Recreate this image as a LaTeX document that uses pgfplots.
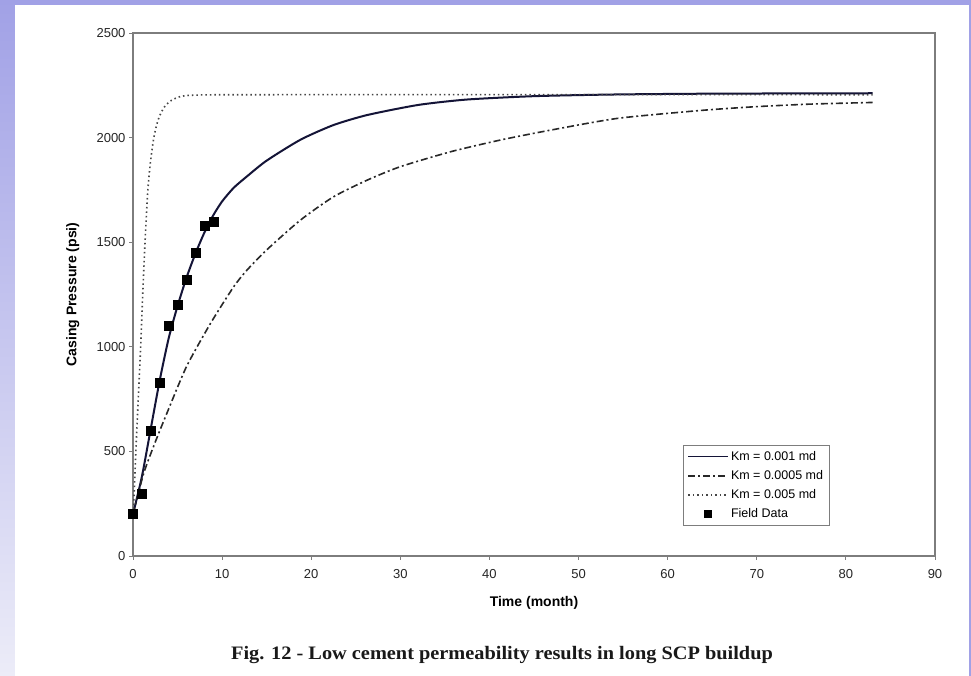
\documentclass[border=0pt]{standalone}
\usepackage{fontspec}
\setmainfont{Liberation Sans}
\newfontfamily\timesfont{Liberation Serif}
\usepackage{pgfplots}
\pgfplotsset{compat=1.18}

\definecolor{bgpurple}{RGB}{161,161,230}
\definecolor{bglight}{RGB}{236,236,248}
\definecolor{framegray}{RGB}{125,125,125}
\definecolor{kmsolid}{RGB}{20,20,55}
\definecolor{kmdash}{RGB}{40,40,40}
\definecolor{kmdot}{RGB}{70,70,70}

\begin{document}
\begin{tikzpicture}[x=1pt,y=1pt]
\useasboundingbox (0,0) rectangle (971,676);
% slide background
\fill[bgpurple] (0,0) rectangle (971,676);
\shade[top color=bgpurple, bottom color=bglight] (0,0) rectangle (15,676);
\fill[white] (15,0) rectangle (969,671);

\begin{axis}[
    at={(133pt,120pt)}, anchor=south west,
    scale only axis,
    width=802pt, height=523pt,
    xmin=0, xmax=90, ymin=0, ymax=2500,
    xtick={0,10,...,90}, ytick={0,500,...,2500},
    axis line style={framegray, line width=1.4pt},
    tick style={framegray, line width=0.9pt},
    tick align=outside, major tick length=4pt,
    xtick pos=bottom, ytick pos=left,
    /pgf/number format/assume math mode=true,
    /pgf/number format/1000 sep={},
    tick label style={font=\fontsize{13}{15}\selectfont, text=black!85},
    xticklabel style={yshift=-6pt},
    xlabel={\textbf{Time (month)}},
    ylabel={\textbf{Casing Pressure (psi)}},
    label style={font=\fontsize{14}{16}\selectfont},
    xlabel style={at={(axis description cs:0.5,-0.09)}, anchor=center},
    ylabel style={at={(axis description cs:-0.075,0.5)}, anchor=center},
    legend style={at={(0.686,0.212)}, anchor=north west, draw=framegray,
        line width=0.7pt, font=\fontsize{12.5}{14}\selectfont,
        row sep=4.5pt, inner sep=4pt},
    legend cell align=left,
]

% Km = 0.001 md
\addplot[kmsolid, line width=2pt, smooth, tension=0.4,
    legend image code/.code={\draw[kmsolid,line width=1.5pt] (0pt,0pt) -- (40pt,0pt);}]
coordinates {
    (0,200) (1,380) (2,610) (3,840) (4,1040) (5,1195) (6,1330) (7,1445)
    (8,1545) (9,1628) (10,1695) (11.3,1760) (12.8,1815) (15,1890)
    (18.8,1990) (22.5,2060) (26.3,2108) (32,2156) (37.5,2182) (45,2198)
    (54,2206) (65,2210) (83,2212)
};
\addlegendentry{Km = 0.001 md}

% Km = 0.0005 md
\addplot[kmdash, line width=1.6pt, dash pattern=on 7pt off 3pt on 2pt off 3pt,
    smooth, tension=0.4,
    legend image code/.code={\draw[kmdash,line width=1.5pt,dash pattern=on 7pt off 3pt on 2pt off 3pt] (0pt,0pt) -- (40pt,0pt);}]
coordinates {
    (0,200) (1.2,395) (2.5,545) (3.8,682) (6,905) (8.7,1112) (11.3,1287)
    (12.8,1367) (15,1463) (18.8,1606) (22.5,1717) (26.3,1797) (30,1861)
    (35.7,1933) (41.3,1989) (46.9,2036) (54.4,2092) (63.8,2130) (70,2148)
    (76,2160) (83,2168)
};
\addlegendentry{Km = 0.0005 md}

% Km = 0.005 md
\addplot[kmdot, line width=1.6pt, dash pattern=on 1.5pt off 3pt,
    smooth, tension=0.4,
    legend image code/.code={\draw[kmdot,line width=1.5pt,dash pattern=on 1.5pt off 3pt] (0pt,0pt) -- (40pt,0pt);}]
coordinates {
    (0,200) (0.17,340) (0.34,520) (0.6,760) (0.86,1000) (1.1,1260)
    (1.35,1500) (1.65,1740) (1.95,1880) (2.3,1990) (2.65,2060) (3,2105)
    (3.5,2145) (4.2,2175) (5.3,2196) (7,2203) (15,2205) (83,2205)
};
\addlegendentry{Km = 0.005 md}

% Field data
\addplot[only marks, mark=square*, mark size=4.5pt, black,
    legend image code/.code={\draw[black,fill=black] (16.5pt,-3.5pt) rectangle (23.5pt,3.5pt);}]
coordinates {
    (0,200) (1,300) (2,600) (3,830) (4,1100) (5,1200) (6,1320) (7,1450)
    (8,1580) (9,1600)
};
\addlegendentry{Field Data}

\end{axis}

\node[font=\timesfont\bfseries\fontsize{19}{22}\selectfont, text=black!90, xscale=1.07]
    at (502,21) {Fig. 12 - Low cement permeability results in long SCP buildup};
\end{tikzpicture}
\end{document}
